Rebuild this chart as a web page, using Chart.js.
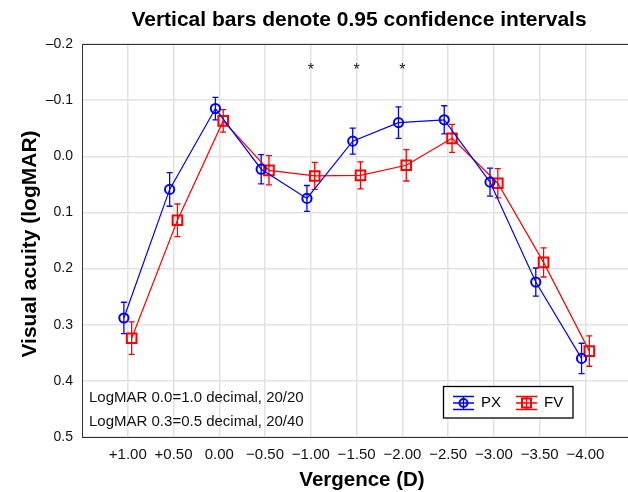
<!DOCTYPE html>
<html><head><meta charset="utf-8">
<script src="https://cdn.jsdelivr.net/npm/chart.js@4.4.0/dist/chart.umd.min.js"></script>
<style>html,body{margin:0;padding:0;background:#fff;overflow:hidden}#wrap{width:628px;height:492px;position:relative}</style>
</head><body><div id="wrap"><canvas id="c" width="628" height="492"></canvas></div>
<script>
const categories = ['+1.00','+0.50','0.00','\u22120.50','\u22121.00','\u22121.50','\u22122.00','\u22122.50','\u22123.00','\u22123.50','\u22124.00'];
const pxMean = [0.288, 0.059, -0.085, 0.023, 0.075, -0.027, -0.060, -0.065, 0.046, 0.224, 0.360];
const pxCI   = [0.028, 0.030, 0.020, 0.026, 0.023, 0.023, 0.028, 0.025, 0.025, 0.025, 0.027];
const fvMean = [0.324, 0.114, -0.063, 0.025, 0.035, 0.034, 0.016, -0.032, 0.048, 0.189, 0.347];
const fvCI   = [0.029, 0.029, 0.020, 0.026, 0.024, 0.024, 0.028, 0.025, 0.026, 0.026, 0.027];
const starCategories = ['\u22121.00','\u22121.50','\u22122.00'];
const starLevel = -0.158;
const noteLines = ['LogMAR 0.0=1.0 decimal, 20/20', 'LogMAR 0.3=0.5 decimal, 20/40'];
const titleText = 'Vertical bars denote 0.95 confidence intervals';
const xTitle = 'Vergence (D)';
const yTitle = 'Visual acuity (logMAR)';

const FONT = '"Liberation Sans", Arial, Helvetica, sans-serif';
const BLUE = '#0000ff', RED = '#ff0000';
const OFF = 0.085;

function fmtY(v){
  if (Math.abs(v) < 1e-9) return '0.0';
  const s = Math.abs(v).toFixed(1);
  return v < 0 ? '\u2013' + s : s;
}

const extras = {
  id: 'extras',
  beforeDatasetsDraw(chart){
    const ctx = chart.ctx, ys = chart.scales.y;
    const sets = [[pxMean, pxCI, BLUE, 0], [fvMean, fvCI, RED, 1]];
    ctx.save();
    ctx.lineWidth = 1.3;
    for (const [m, ci, col, d] of sets){
      const meta = chart.getDatasetMeta(d);
      ctx.strokeStyle = col;
      m.forEach((v, i) => {
        const x = meta.data[i].x;
        const y1 = ys.getPixelForValue(v - ci[i]);
        const y2 = ys.getPixelForValue(v + ci[i]);
        ctx.beginPath();
        ctx.moveTo(x, y1); ctx.lineTo(x, y2);
        ctx.moveTo(x - 3, y1); ctx.lineTo(x + 3, y1);
        ctx.moveTo(x - 3, y2); ctx.lineTo(x + 3, y2);
        ctx.stroke();
      });
    }
    ctx.restore();
  },
  afterDraw(chart){
    const ctx = chart.ctx, ca = chart.chartArea, xs = chart.scales.x, ys = chart.scales.y;
    ctx.save();
    // top border
    ctx.strokeStyle = '#333'; ctx.lineWidth = 1;
    ctx.beginPath(); ctx.moveTo(ca.left, ca.top + 0.5); ctx.lineTo(ca.right, ca.top + 0.5); ctx.stroke();
    // asterisks
    ctx.fillStyle = '#222';
    ctx.font = '16px ' + FONT;
    ctx.textAlign = 'center'; ctx.textBaseline = 'alphabetic';
    starCategories.forEach(c => {
      const x = xs.getPixelForValue(categories.indexOf(c) + 1);
      const y = ys.getPixelForValue(starLevel);
      ctx.fillText('*', x, y + 7.5);
    });
    // note text
    ctx.fillStyle = '#111';
    ctx.font = '15px ' + FONT;
    ctx.textAlign = 'left'; ctx.textBaseline = 'middle';
    ctx.fillText(noteLines[0], 89, 398);
    ctx.fillText(noteLines[1], 89, 422);
    // legend
    ctx.fillStyle = '#fff';
    ctx.fillRect(443, 386, 130, 32);
    ctx.strokeStyle = '#000'; ctx.lineWidth = 1.3;
    ctx.strokeRect(443.5, 386.5, 129.5, 31.5);
    const cy = 403;
    function icon(x0, x1, col, square){
      ctx.strokeStyle = col; ctx.lineWidth = 1.3;
      ctx.beginPath();
      ctx.moveTo(x0, cy); ctx.lineTo(x1, cy);
      ctx.moveTo(x0, cy - 6.5); ctx.lineTo(x1, cy - 6.5);
      ctx.moveTo(x0, cy + 6.5); ctx.lineTo(x1, cy + 6.5);
      const xc = (x0 + x1) / 2;
      ctx.moveTo(xc, cy - 6.5); ctx.lineTo(xc, cy + 6.5);
      ctx.stroke();
      ctx.lineWidth = 2;
      ctx.beginPath();
      if (square) ctx.rect(xc - 4.5, cy - 4.5, 9, 9);
      else ctx.arc(xc, cy, 4, 0, Math.PI * 2);
      ctx.stroke();
    }
    icon(453, 474, BLUE, false);
    icon(516, 537, RED, true);
    ctx.fillStyle = '#000';
    ctx.font = '15px ' + FONT;
    ctx.textAlign = 'left'; ctx.textBaseline = 'middle';
    ctx.fillText('PX', 481, cy);
    ctx.fillText('FV', 544, cy);
    // title
    ctx.font = 'bold 21px ' + FONT;
    ctx.textAlign = 'center'; ctx.textBaseline = 'middle';
    ctx.fillStyle = '#000';
    ctx.fillText(titleText, 359, 20);
    // axis titles
    ctx.font = 'bold 20.5px ' + FONT;
    ctx.fillText(xTitle, 362, 480);
    ctx.font = 'bold 21px ' + FONT;
    ctx.translate(30, 244);
    ctx.rotate(-Math.PI / 2);
    ctx.fillText(yTitle, 0, 0);
    ctx.restore();
  }
};

new Chart(document.getElementById('c'), {
  type: 'line',
  data: {
    datasets: [
      {
        label: 'PX',
        data: pxMean.map((v, i) => ({x: i + 1 - OFF, y: v})),
        borderColor: BLUE, borderWidth: 1.2,
        pointStyle: 'circle', pointRadius: 4.6, pointBorderWidth: 2,
        pointBorderColor: BLUE, pointBackgroundColor: 'rgba(0,0,0,0)',
        tension: 0, fill: false
      },
      {
        label: 'FV',
        data: fvMean.map((v, i) => ({x: i + 1 + OFF, y: v})),
        borderColor: RED, borderWidth: 1.2,
        pointStyle: 'rect', pointRadius: 6.8, pointBorderWidth: 2,
        pointBorderColor: RED, pointBackgroundColor: 'rgba(0,0,0,0)',
        tension: 0, fill: false
      }
    ]
  },
  options: {
    responsive: false,
    animation: false,
    events: [],
    layout: { autoPadding: false, padding: { top: 44, right: 0, left: 0, bottom: 0 } },
    plugins: { legend: { display: false }, title: { display: false }, tooltip: { enabled: false } },
    scales: {
      x: {
        type: 'linear', min: 0, max: 11.93,
        afterBuildTicks(s){ s.ticks = categories.map((_, i) => ({ value: i + 1 })); },
        afterFit(s){ s.height = 55; s.paddingLeft = 0; s.paddingRight = 0; },
        ticks: {
          callback: v => categories[Math.round(v) - 1] || '',
          color: '#111', font: { family: FONT, size: 15 }, padding: 9, maxRotation: 0, autoSkip: false
        },
        grid: { color: '#e2e2e2', lineWidth: 1.5, drawTicks: false },
        border: { display: true, color: '#333', width: 1 }
      },
      y: {
        type: 'linear', min: -0.2, max: 0.5, reverse: true,
        afterBuildTicks(s){ s.ticks = [-0.2,-0.1,0,0.1,0.2,0.3,0.4,0.5].map(v => ({ value: v })); },
        afterFit(s){ s.width = 82; s.paddingTop = 0; s.paddingBottom = 0; },
        ticks: {
          callback: v => fmtY(v),
          color: '#111', font: { family: FONT, size: 14 }, padding: 9
        },
        grid: { color: '#e2e2e2', lineWidth: 1.5, drawTicks: false },
        border: { display: true, color: '#333', width: 1 }
      }
    }
  },
  plugins: [extras]
});
</script>
</body></html>
